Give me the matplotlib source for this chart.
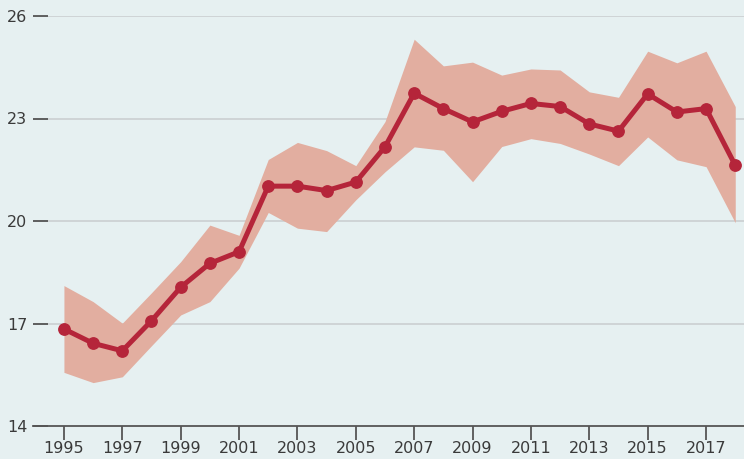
import matplotlib
matplotlib.use('Agg')
import matplotlib.pyplot as plt

plt.rcParams['font.family'] = ['Liberation Sans Narrow', 'DejaVu Sans']

years = list(range(1995, 2019))
mid = [16.84, 16.42, 16.20, 17.08, 18.06, 18.76, 19.10, 21.02, 21.02, 20.89, 21.14, 22.17,
       23.74, 23.29, 22.90, 23.21, 23.44, 23.35, 22.84, 22.63, 23.72, 23.19, 23.29, 21.63]
upper = [18.11, 17.64, 17.01, 17.90, 18.81, 19.88, 19.58, 21.80, 22.30, 22.06, 21.62, 22.91,
         25.32, 24.54, 24.65, 24.27, 24.45, 24.42, 23.78, 23.62, 24.97, 24.63, 24.97, 23.35]
lower = [15.57, 15.27, 15.44, 16.35, 17.25, 17.64, 18.62, 20.25, 19.79, 19.69, 20.62, 21.44,
         22.17, 22.07, 21.15, 22.18, 22.41, 22.27, 21.96, 21.62, 22.46, 21.79, 21.59, 19.95]
xticks = list(range(1995, 2018, 2))
yticks = [14, 17, 20, 23, 26]

bg = '#e6f0f1'
fig = plt.figure(figsize=(7.44, 4.59), dpi=100, facecolor=bg)
ax = fig.add_axes([33/744, 1 - 426/459, 1 - 33/744, (426 - 16)/459])
ax.set_facecolor(bg)

ax.fill_between(years, lower, upper, color='#e2aea0', lw=0, zorder=2)
ax.plot(years, mid, color='#b5253a', lw=3.6, marker='o', ms=8.2, zorder=3)

ax.set_xlim(1993.94, 2018.3)
ax.set_ylim(14, 26)
ax.set_xticks(xticks)
ax.set_yticks(yticks)
for y in yticks[1:]:
    ax.axhline(y, color='#cdd2d4', lw=1.3, zorder=1)

for s in ['top', 'right', 'left']:
    ax.spines[s].set_visible(False)
ax.spines['bottom'].set_color('#555555')
ax.spines['bottom'].set_linewidth(1.3)
ax.spines['bottom'].set_zorder(4)

ax.tick_params(axis='y', direction='in', length=10.5, width=1.3, color='#555555',
               pad=4, labelsize=11.5, labelcolor='#3a3a3a')
ax.tick_params(axis='x', direction='out', length=10, width=1.3, color='#555555',
               pad=1, labelsize=11.5, labelcolor='#3a3a3a')

fig.savefig('out.png', dpi=100, facecolor=bg)
